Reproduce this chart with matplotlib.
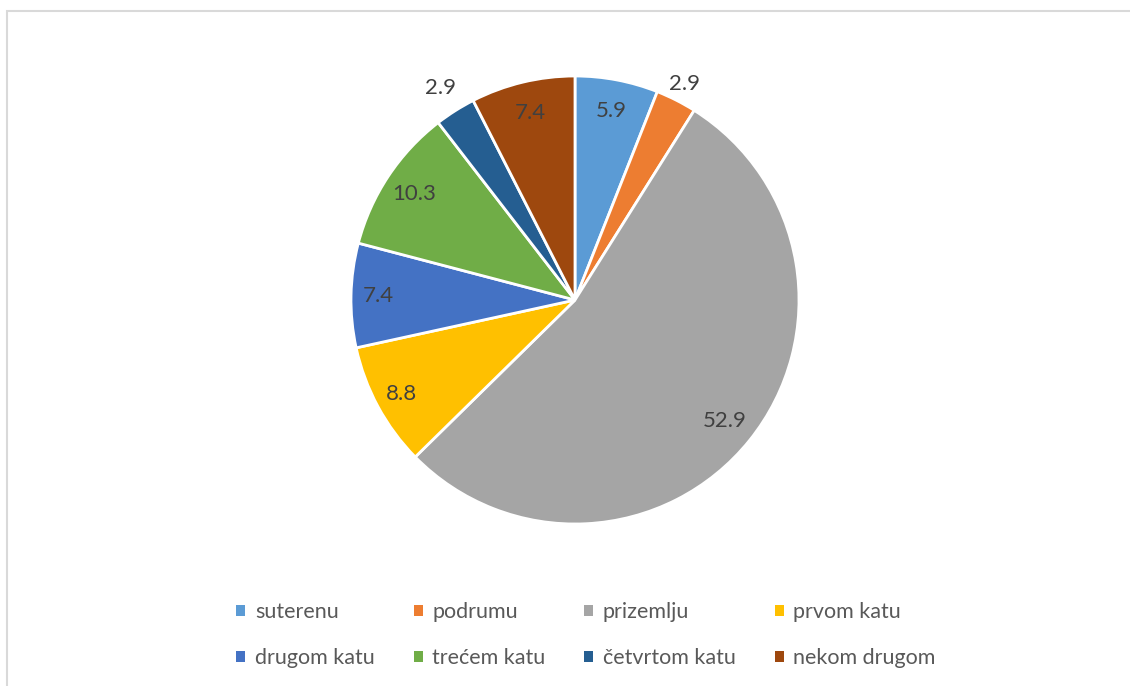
import numpy as np
import matplotlib.pyplot as plt
from matplotlib.patches import Rectangle

# data
categories = ['suterenu', 'podrumu', 'prizemlju', 'prvom katu',
              'drugom katu', 'trećem katu', 'četvrtom katu', 'nekom drugom']
values = [5.9, 2.9, 52.9, 8.8, 7.4, 10.3, 2.9, 7.4]
colors = ['#5B9BD5', '#ED7D31', '#A5A5A5', '#FFC000',
          '#4472C4', '#70AD47', '#255E91', '#9E480E']
# where the value label sits, as fraction of radius
label_r = [0.86, 1.08, 0.86, 0.88, 0.88, 0.86, 1.12, 0.86]

plt.rcParams['font.family'] = ['Lato', 'DejaVu Sans']
W, H = 1130, 686
fig = plt.figure(figsize=(W / 100, H / 100), dpi=100)

# thin grey frame like the office chart area
fig.patches.append(Rectangle((6.5 / W, -0.01), 1.1, 1 - 10.5 / H + 0.01,
                             transform=fig.transFigure, fill=False,
                             edgecolor='#D9D9D9', linewidth=1.5))

cx, cy, r = 575, 300, 224
ax = fig.add_axes([(cx - r) / W, (H - cy - r) / H, 2 * r / W, 2 * r / H])
wedges, _ = ax.pie(values, colors=colors, startangle=90, counterclock=False,
                   radius=1, wedgeprops=dict(edgecolor='white', linewidth=2))
ax.set_xlim(-1, 1)
ax.set_ylim(-1, 1)
ax.set_aspect('equal')
ax.axis('off')

for w, v, lr in zip(wedges, values, label_r):
    th = np.deg2rad((w.theta1 + w.theta2) / 2)
    ax.text(lr * np.cos(th), lr * np.sin(th), f'{v}', ha='center',
            va='center', fontsize=16, color='#404040')

# legend fills row by row in the reference
order = [0, 4, 1, 5, 2, 6, 3, 7]
leg = fig.legend([wedges[i] for i in order], [categories[i] for i in order],
                 loc='center', ncol=4,
                 bbox_to_anchor=(586 / W, 1 - 635 / H), frameon=False,
                 fontsize=15.5, labelcolor='#595959', handlelength=0.42,
                 handleheight=0.42, handletextpad=0.45, columnspacing=1.8,
                 labelspacing=1.2)
for h in leg.legend_handles:
    h.set_edgecolor('none')

fig.savefig('out.png', dpi=100)
